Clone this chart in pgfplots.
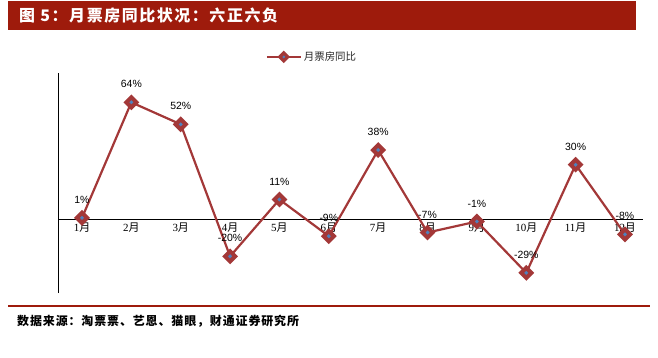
\documentclass[border=0pt]{standalone}
\usepackage{fontspec}
\setmainfont{Liberation Sans}
\newfontfamily\cjk{Noto Sans CJK SC}
\newfontfamily\serif{Liberation Serif}
\usepackage{pgfplots}
\pgfplotsset{compat=1.18}
\definecolor{barred}{RGB}{158,27,12}
\definecolor{linered}{RGB}{163,56,56}
\definecolor{mblue}{RGB}{79,129,189}
\newcommand\yue{{\cjk 月}}
\begin{document}
\begin{tikzpicture}[x=1bp,y=1bp]
\useasboundingbox (0,0) rectangle (658,-357);
\fill[barred] (8,-1) rectangle (636,-30);
\node[anchor=west, text=white, inner sep=0pt, font=\cjk\bfseries\fontsize{16}{16}\selectfont\addfontfeature{LetterSpace=10}] at (19,-15.5) {图 5：月票房同比状况：六正六负};
\draw[barred, line width=2bp] (8,-306) -- (650,-306);
\node[anchor=west, inner sep=0pt, font=\cjk\bfseries\fontsize{12}{12}\selectfont\addfontfeature{LetterSpace=7.5}] at (17,-321) {数据来源：淘票票、艺恩、猫眼，财通证券研究所};
\begin{axis}[
  at={(58bp,-293bp)}, anchor=south west,
  scale only axis, width=585bp, height=220bp,
  xmin=0.514, xmax=12.365, ymin=-40, ymax=80,
  axis x line=middle, axis y line=left,
  axis line style={-, black, line width=0.9bp},
  xtick={1,...,12},
  xticklabels={1\yue,2\yue,3\yue,4\yue,5\yue,6\yue,7\yue,8\yue,9\yue,10\yue,11\yue,12\yue},
  ytick=\empty, major tick length=0pt,
  xticklabel style={font=\serif\fontsize{11}{11}\selectfont, text=black},
  clip=false,
  legend style={at={(0.434,1.073)}, anchor=center, draw=none, fill=none,
    font=\cjk\fontsize{10.5}{10.5}\selectfont, text=black!85},
  legend image code/.code={\draw[mark repeat=2, mark phase=2, #1, mark size=2.8bp, mark options={rotate=45, fill=mblue, draw=linered, line width=3.2bp}] plot coordinates {(0bp,0bp)(17bp,0bp)(34bp,0bp)};},
]
\addplot[linered, line width=2.2bp, mark=square*, mark size=3.6bp,
  mark options={rotate=45, fill=mblue, draw=linered, line width=4bp},
  nodes near coords, point meta=explicit symbolic,
  every node near coord/.style={anchor=center, yshift=18bp, font=\fontsize{10.5}{10.5}\selectfont, text=black}]
coordinates {
(1,1) [1\%]
(2,64) [64\%]
(3,52) [52\%]
(4,-20) [-20\%]
(5,11) [11\%]
(6,-9) [-9\%]
(7,38) [38\%]
(8,-7) [-7\%]
(9,-1) [-1\%]
(10,-29) [-29\%]
(11,30) [30\%]
(12,-8) [-8\%]
};
\legend{月票房同比}
\end{axis}
\end{tikzpicture}
\end{document}
